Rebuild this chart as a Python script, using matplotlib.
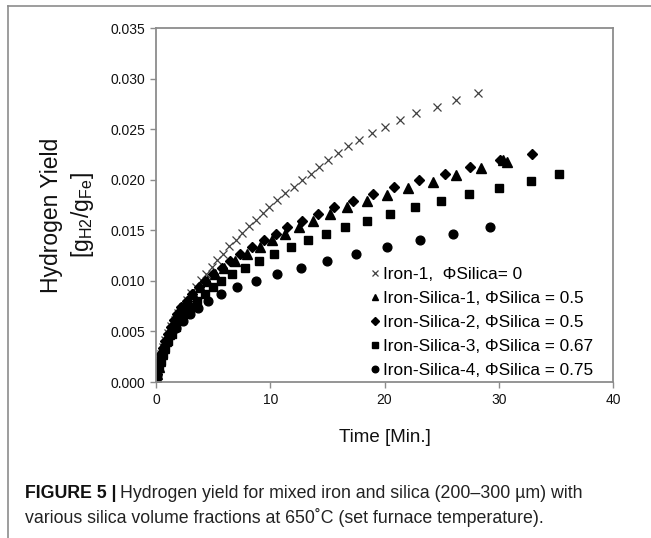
import matplotlib
matplotlib.use("Agg")
import matplotlib.pyplot as plt
from matplotlib.lines import Line2D
from matplotlib.ticker import FormatStrFormatter, MultipleLocator

plt.rcParams['font.family'] = ['Liberation Sans', 'DejaVu Sans']

# Iron-1, PhiSilica = 0  (x markers)
t_iron1 = [0.03, 0.09, 0.17, 0.29, 0.44, 0.61, 0.81, 1.05, 1.31, 1.62, 1.95, 2.32,
           2.67, 3.06, 3.48, 3.92, 4.37, 4.87, 5.38, 5.89, 6.43, 7.00, 7.57, 8.14,
           8.75, 9.33, 9.93, 10.61, 11.33, 12.07, 12.77, 13.53, 14.29, 15.07, 15.90,
           16.84, 17.79, 18.87, 20.06, 21.35, 22.75, 24.56, 26.25, 28.17]
y_iron1 = [0.0002, 0.0009, 0.0015, 0.0022, 0.0028, 0.0035, 0.0042, 0.0048, 0.0055,
           0.0061, 0.0068, 0.0074, 0.0081, 0.0088, 0.0094, 0.0101, 0.0107, 0.0114,
           0.0121, 0.0127, 0.0134, 0.0140, 0.0147, 0.0154, 0.0160, 0.0167, 0.0173,
           0.0180, 0.0187, 0.0193, 0.0200, 0.0206, 0.0213, 0.0219, 0.0226, 0.0233,
           0.0239, 0.0246, 0.0252, 0.0259, 0.0266, 0.0272, 0.0279, 0.0286]

# Iron-Silica-1, PhiSilica = 0.5  (triangles)
t_fs1 = [0.04, 0.11, 0.22, 0.35, 0.52, 0.70, 0.90, 1.14, 1.40, 1.71, 2.01, 2.36,
         2.76, 3.24, 3.81, 4.46, 5.16, 5.99, 6.91, 7.96, 9.10, 10.19, 11.29, 12.48,
         13.76, 15.22, 16.75, 18.43, 20.18, 22.07, 24.21, 26.25, 28.41, 30.36, 30.75]
y_fs1 = [0.0001, 0.0008, 0.0015, 0.0021, 0.0028, 0.0034, 0.0041, 0.0047, 0.0054,
         0.0061, 0.0067, 0.0074, 0.0080, 0.0087, 0.0094, 0.0100, 0.0107, 0.0113,
         0.0120, 0.0127, 0.0133, 0.0140, 0.0146, 0.0153, 0.0159, 0.0166, 0.0173,
         0.0179, 0.0185, 0.0192, 0.0198, 0.0205, 0.0212, 0.0219, 0.0218]

# Iron-Silica-2, PhiSilica = 0.5  (diamonds)
t_fs2 = [0.03, 0.09, 0.17, 0.31, 0.46, 0.64, 0.83, 1.05, 1.31, 1.57, 1.88, 2.23,
         2.67, 3.15, 3.72, 4.33, 5.03, 5.77, 6.47, 7.39, 8.37, 9.41, 10.50, 11.46,
         12.82, 14.15, 15.55, 17.21, 18.96, 20.87, 23.04, 25.28, 27.52, 30.10, 32.92]
y_fs2 = [0.0001, 0.0008, 0.0015, 0.0021, 0.0028, 0.0034, 0.0041, 0.0047, 0.0054,
         0.0061, 0.0067, 0.0074, 0.0080, 0.0087, 0.0094, 0.0100, 0.0107, 0.0113,
         0.0120, 0.0127, 0.0133, 0.0140, 0.0146, 0.0153, 0.0159, 0.0166, 0.0173,
         0.0179, 0.0186, 0.0193, 0.0200, 0.0206, 0.0213, 0.0219, 0.0225]

# Iron-Silica-3, PhiSilica = 0.67  (squares)
t_fs3 = [0.04, 0.13, 0.26, 0.44, 0.61, 0.83, 1.09, 1.40, 1.75, 2.14, 2.58, 3.06,
         3.63, 4.29, 4.96, 5.67, 6.62, 7.81, 9.03, 10.35, 11.78, 13.34, 14.87, 16.55,
         18.43, 20.45, 22.69, 24.93, 27.36, 30.01, 32.78, 35.28]
y_fs3 = [0.0001, 0.0008, 0.0015, 0.0021, 0.0028, 0.0034, 0.0041, 0.0047, 0.0054,
         0.0061, 0.0067, 0.0074, 0.0080, 0.0087, 0.0094, 0.0100, 0.0107, 0.0113,
         0.0120, 0.0127, 0.0133, 0.0140, 0.0146, 0.0153, 0.0159, 0.0166, 0.0173,
         0.0179, 0.0186, 0.0192, 0.0199, 0.0206]

# Iron-Silica-4, PhiSilica = 0.75  (circles)
t_fs4 = [0.03, 0.09, 0.17, 0.31, 0.48, 0.70, 0.96, 1.31, 1.75, 2.32, 2.97, 3.70,
         4.58, 5.69, 7.11, 8.78, 10.61, 12.66, 14.99, 17.50, 20.24, 23.10, 26.01, 29.22]
y_fs4 = [0.0001, 0.0007, 0.0014, 0.0021, 0.0027, 0.0034, 0.0041, 0.0047, 0.0053,
         0.0060, 0.0067, 0.0073, 0.0080, 0.0087, 0.0094, 0.0100, 0.0107, 0.0113,
         0.0120, 0.0127, 0.0133, 0.0140, 0.0146, 0.0153]

labels = ['Iron-1,  \u03a6Silica= 0',
          'Iron-Silica-1, \u03a6Silica = 0.5',
          'Iron-Silica-2, \u03a6Silica = 0.5',
          'Iron-Silica-3, \u03a6Silica = 0.67',
          'Iron-Silica-4, \u03a6Silica = 0.75']

fig = plt.figure(figsize=(6.51, 5.38), dpi=100)
ax = fig.add_axes([156 / 651, 1 - 382 / 538, 457 / 651, 354 / 538])

ax.plot(t_iron1, y_iron1, ls='none', marker='x', ms=6, mew=0.9, color='#404040', label=labels[0])
ax.plot(t_fs1, y_fs1, ls='none', marker='^', ms=6.5, color='black', label=labels[1])
ax.plot(t_fs2, y_fs2, ls='none', marker='D', ms=5.2, color='black', label=labels[2])
ax.plot(t_fs3, y_fs3, ls='none', marker='s', ms=5.6, color='black', label=labels[3])
ax.plot(t_fs4, y_fs4, ls='none', marker='o', ms=6.3, color='black', label=labels[4])

ax.set_xlim(0, 40)
ax.set_ylim(0, 0.035)
ax.xaxis.set_major_locator(MultipleLocator(10))
ax.yaxis.set_major_locator(MultipleLocator(0.005))
ax.yaxis.set_major_formatter(FormatStrFormatter('%.3f'))

for s in ax.spines.values():
    s.set_color('#8c8c8c')
    s.set_linewidth(1.3)
ax.tick_params(direction='out', length=4, width=1, color='#8c8c8c',
               labelsize=10, pad=4, labelcolor='#111111')

leg = ax.legend(loc='lower right', bbox_to_anchor=(0.957, 0.012), frameon=False,
                fontsize=12.4, handlelength=0.5, handletextpad=0.2,
                labelspacing=0.52, markerscale=0.75, borderpad=0, borderaxespad=0)

fig.text(68 / 651, 1 - 215 / 538,
         'Hydrogen Yield\n' + r'[$\mathregular{g_{H2}/g_{Fe}}$]',
         rotation=90, ha='center', va='center', multialignment='center',
         fontsize=16.5, linespacing=1.3, color='#111111')
fig.text(384.5 / 651, 1 - 437 / 538, 'Time [Min.]', ha='center', va='center',
         fontsize=13.5, color='#111111')

# caption
renderer = fig.canvas.get_renderer()
cap1 = fig.text(25 / 651, 1 - 498 / 538, 'FIGURE 5 |', fontsize=12.8,
                weight='bold', va='baseline', color='#111111')
x1 = cap1.get_window_extent(renderer).x1 / fig.bbox.width
fig.text(x1 + 3 / 651, 1 - 498 / 538,
         'Hydrogen yield for mixed iron and silica (200\u2013300 \u00b5m) with',
         fontsize=12.8, va='baseline', color='#222222')
fig.text(25 / 651, 1 - 523 / 538,
         'various silica volume fractions at 650\u02daC (set furnace temperature).',
         fontsize=12.8, va='baseline', color='#222222')

# panel frame (top and left edge)
fig.add_artist(Line2D([8 / 651, 8 / 651], [0, 1 - 6 / 538], transform=fig.transFigure,
                      color='#8c8c8c', lw=1.2))
fig.add_artist(Line2D([8 / 651, 1], [1 - 6 / 538, 1 - 6 / 538], transform=fig.transFigure,
                      color='#8c8c8c', lw=1.2))

fig.savefig('out.png', dpi=100)
